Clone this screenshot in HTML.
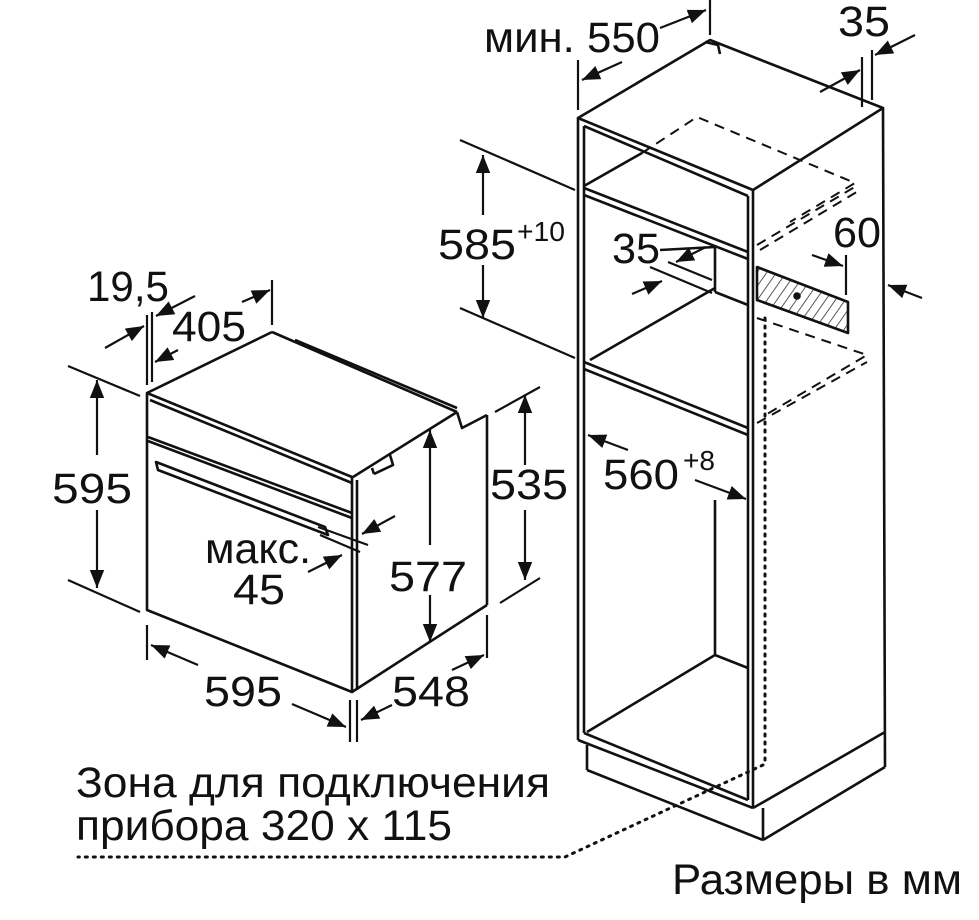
<!DOCTYPE html>
<html><head><meta charset="utf-8"><style>
html,body{margin:0;padding:0;background:#fff;}
svg{display:block}
text{font-family:"Liberation Sans",sans-serif;fill:#111;}
</style></head><body>
<svg width="979" height="920" viewBox="0 0 979 920" xmlns="http://www.w3.org/2000/svg">
<defs>
<marker id="b" viewBox="0 0 10 10" refX="10" refY="5" markerWidth="18" markerHeight="18" orient="auto-start-reverse" markerUnits="userSpaceOnUse"><path d="M0,1 L10,5 L0,9 z" fill="#111"/></marker>
<pattern id="h" width="8" height="8" patternUnits="userSpaceOnUse" patternTransform="rotate(35)"><line x1="0" y1="0" x2="0" y2="8" stroke="#222" stroke-width="1.5"/></pattern>
</defs>
<g fill="none" stroke="#111" stroke-width="2.6" stroke-linejoin="round">
<!-- ===== CABINET ===== -->
<polygon points="578,118 710,40 883,108 753,190" />
<path d="M705,42 L718,45 L720,54"/>
<line x1="578" y1="118" x2="578" y2="740"/>
<line x1="584" y1="126" x2="584" y2="733"/>
<line x1="753" y1="190" x2="753" y2="808"/>
<line x1="748" y1="196" x2="748" y2="800"/>
<line x1="584" y1="126" x2="748" y2="196"/>
<line x1="883" y1="108" x2="885" y2="767"/>
<line x1="578" y1="740" x2="753" y2="808"/>
<line x1="584" y1="733" x2="748" y2="800"/>
<line x1="587" y1="745" x2="587" y2="770"/>
<line x1="587" y1="770" x2="763" y2="840"/>
<line x1="763" y1="808" x2="763" y2="840"/>
<line x1="763" y1="840" x2="885" y2="767"/>
<line x1="753" y1="808" x2="885" y2="732"/>
<line x1="584" y1="188" x2="748" y2="252"/>
<line x1="584" y1="195" x2="748" y2="259"/>
<line x1="584" y1="186" x2="642" y2="153"/>
<line x1="584" y1="362" x2="748" y2="428"/>
<line x1="584" y1="369" x2="748" y2="435"/>
<line x1="590" y1="360" x2="715" y2="288"/>
<line x1="715" y1="247" x2="715" y2="292"/>
<line x1="660" y1="250" x2="715" y2="247"/>
<line x1="715" y1="292" x2="748" y2="305"/>
<g stroke-dasharray="10,7" stroke-width="2">
<polyline points="642,153 697,117 855,183 790,222"/>
<line x1="760" y1="250" x2="860" y2="190"/>
<line x1="757" y1="245" x2="858" y2="185"/>
<polyline points="757,318 867,355 762,417"/>
<line x1="757" y1="423" x2="867" y2="362"/>
</g>
<polygon points="757,267 848,302 848,333 757,300" fill="url(#h)"/>
<circle cx="797" cy="296" r="2.5" fill="#111"/>
<line x1="715" y1="500" x2="715" y2="655"/>
<line x1="715" y1="655" x2="587" y2="732"/>
<line x1="715" y1="655" x2="748" y2="668"/>
<g stroke-dasharray="2,6" stroke-width="3" stroke-linecap="round">
<line x1="765" y1="318" x2="765" y2="762"/>
<polyline points="763,765 565,857 78,857"/>
</g>
<g stroke-width="2.2">
<line x1="578" y1="60" x2="578" y2="110"/>
<line x1="710" y1="0" x2="710" y2="35"/>
<line x1="622" y1="62" x2="582" y2="80" marker-end="url(#b)"/>
<line x1="660" y1="28" x2="706" y2="10" marker-end="url(#b)"/>
<line x1="862" y1="57" x2="862" y2="107"/>
<line x1="872" y1="50" x2="872" y2="100"/>
<line x1="820" y1="92" x2="860" y2="70" marker-end="url(#b)"/>
<line x1="915" y1="35" x2="875" y2="55" marker-end="url(#b)"/>
<line x1="460" y1="140" x2="575" y2="190"/>
<line x1="460" y1="308" x2="575" y2="358"/>
<line x1="483" y1="215" x2="483" y2="155" marker-end="url(#b)"/>
<line x1="483" y1="265" x2="483" y2="318" marker-end="url(#b)"/>
<line x1="650" y1="267" x2="712" y2="293"/>
<line x1="668" y1="262" x2="712" y2="280"/>
<line x1="706" y1="247" x2="676" y2="262" marker-end="url(#b)"/>
<line x1="632" y1="294" x2="662" y2="281" marker-end="url(#b)"/>
<line x1="812" y1="255" x2="843" y2="266" marker-end="url(#b)"/>
<line x1="846" y1="255" x2="846" y2="295"/>
<line x1="922" y1="298" x2="888" y2="285" marker-end="url(#b)"/>
<line x1="628" y1="450" x2="588" y2="435" marker-end="url(#b)"/>
<line x1="695" y1="480" x2="746" y2="499" marker-end="url(#b)"/>
</g>
<!-- ===== OVEN ===== -->
<polygon points="147,393 352,477 352,692 147,610"/>
<line x1="147" y1="393" x2="272" y2="332"/>
<line x1="272" y1="332" x2="457" y2="412"/>
<line x1="295" y1="340" x2="457" y2="408"/>
<line x1="353" y1="477" x2="457" y2="412"/>
<polyline points="457,412 462,428 487,415"/>
<line x1="487" y1="415" x2="487" y2="605"/>
<line x1="352" y1="692" x2="487" y2="605"/>
<line x1="357" y1="480" x2="357" y2="690"/>
<line x1="150" y1="400" x2="352" y2="483"/>
<line x1="148" y1="437" x2="352" y2="513"/>
<line x1="148" y1="441" x2="352" y2="518"/>
<path d="M156,462 L325,527 L328,535 L158,470 Z"/>
<path d="M374,474 L393,465 L390,455 M374,474 L372,468"/>
<g stroke-width="2.2">
<line x1="147" y1="315" x2="147" y2="385"/>
<line x1="152" y1="312" x2="152" y2="382"/>
<line x1="272" y1="280" x2="272" y2="325"/>
<line x1="105" y1="348" x2="144" y2="326" marker-end="url(#b)"/>
<line x1="195" y1="296" x2="156" y2="316" marker-end="url(#b)"/>
<line x1="178" y1="350" x2="155" y2="362" marker-end="url(#b)"/>
<line x1="242" y1="302" x2="270" y2="290" marker-end="url(#b)"/>
<line x1="68" y1="366" x2="140" y2="396"/>
<line x1="68" y1="580" x2="140" y2="612"/>
<line x1="97" y1="455" x2="97" y2="380" marker-end="url(#b)"/>
<line x1="97" y1="510" x2="97" y2="588" marker-end="url(#b)"/>
<line x1="495" y1="412" x2="540" y2="387"/>
<line x1="500" y1="603" x2="540" y2="578"/>
<line x1="525" y1="465" x2="525" y2="395" marker-end="url(#b)"/>
<line x1="525" y1="510" x2="525" y2="580" marker-end="url(#b)"/>
<line x1="430" y1="545" x2="430" y2="430" marker-end="url(#b)"/>
<line x1="430" y1="595" x2="430" y2="642" marker-end="url(#b)"/>
<line x1="318" y1="527" x2="368" y2="545"/>
<line x1="320" y1="535" x2="360" y2="552"/>
<line x1="395" y1="516" x2="362" y2="534" marker-end="url(#b)"/>
<line x1="308" y1="572" x2="342" y2="555" marker-end="url(#b)"/>
<line x1="147" y1="625" x2="147" y2="660"/>
<line x1="350" y1="700" x2="350" y2="742"/>
<line x1="357" y1="700" x2="357" y2="742"/>
<line x1="487" y1="615" x2="487" y2="658"/>
<line x1="198" y1="665" x2="151" y2="645" marker-end="url(#b)"/>
<line x1="292" y1="704" x2="346" y2="727" marker-end="url(#b)"/>
<line x1="392" y1="705" x2="361" y2="720" marker-end="url(#b)"/>
<line x1="452" y1="670" x2="484" y2="655" marker-end="url(#b)"/>
</g>
</g>
<g font-size="43">
<text x="484" y="52" textLength="176" lengthAdjust="spacingAndGlyphs">мин. 550</text>
<text x="838" y="36" textLength="52" lengthAdjust="spacingAndGlyphs">35</text>
<text x="438" y="259" textLength="78" lengthAdjust="spacingAndGlyphs">585</text>
<text x="517" y="241" font-size="28" textLength="48" lengthAdjust="spacingAndGlyphs">+10</text>
<text x="612" y="263" textLength="48" lengthAdjust="spacingAndGlyphs">35</text>
<text x="833" y="247" textLength="48" lengthAdjust="spacingAndGlyphs">60</text>
<text x="603" y="489" textLength="76" lengthAdjust="spacingAndGlyphs">560</text>
<text x="683" y="470" font-size="28" textLength="32" lengthAdjust="spacingAndGlyphs">+8</text>
<text x="87" y="301" textLength="82" lengthAdjust="spacingAndGlyphs">19,5</text>
<text x="172" y="341" textLength="74" lengthAdjust="spacingAndGlyphs">405</text>
<text x="52" y="503" textLength="80" lengthAdjust="spacingAndGlyphs">595</text>
<text x="490" y="499" textLength="78" lengthAdjust="spacingAndGlyphs">535</text>
<text x="389" y="591" textLength="78" lengthAdjust="spacingAndGlyphs">577</text>
<text x="205" y="563" textLength="106" lengthAdjust="spacingAndGlyphs">макс.</text>
<text x="233" y="604" textLength="52" lengthAdjust="spacingAndGlyphs">45</text>
<text x="204" y="706" textLength="78" lengthAdjust="spacingAndGlyphs">595</text>
<text x="392" y="706" textLength="78" lengthAdjust="spacingAndGlyphs">548</text>
<text x="76" y="797" textLength="474" lengthAdjust="spacingAndGlyphs">Зона для подключения</text>
<text x="76" y="840" textLength="376" lengthAdjust="spacingAndGlyphs">прибора 320 x 115</text>
<text x="672" y="894" textLength="290" lengthAdjust="spacingAndGlyphs">Размеры в мм</text>
</g>
</svg>
</body></html>
